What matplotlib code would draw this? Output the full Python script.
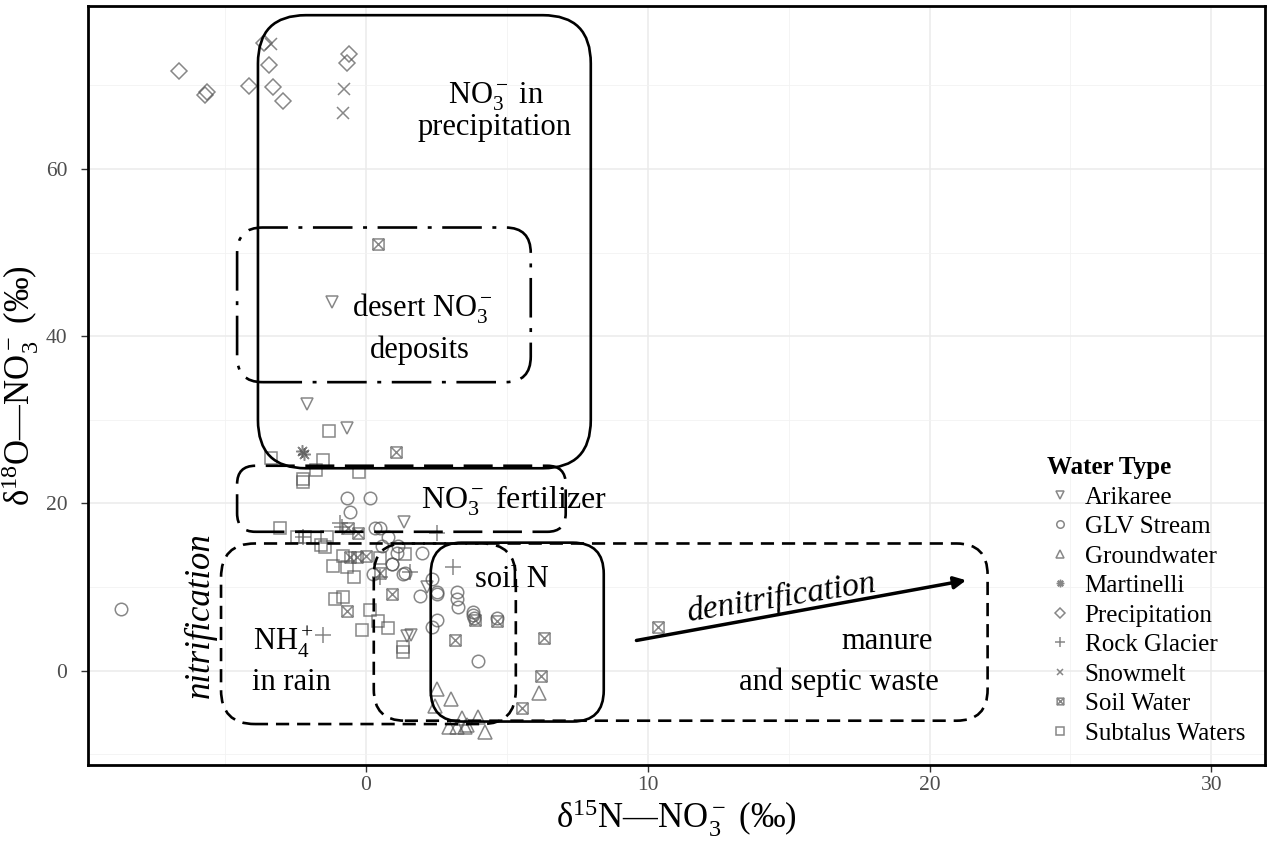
import matplotlib
matplotlib.use("Agg")
import matplotlib.pyplot as plt
from matplotlib.patches import FancyBboxPatch
from matplotlib.path import Path

plt.rcParams['font.family'] = ['Liberation Serif', 'DejaVu Serif']
plt.rcParams['mathtext.fontset'] = 'custom'
plt.rcParams['mathtext.rm'] = 'Liberation Serif'
plt.rcParams['mathtext.it'] = 'Liberation Serif:italic'
plt.rcParams['mathtext.bf'] = 'Liberation Serif:bold'

# d15N / d18O of nitrate by water type
arikaree_x = [-1.21, -2.09, -0.67, 1.35, 1.45, 1.6, 2.16]
arikaree_y = [44.1, 31.9, 29.0, 17.8, 4.1, 4.3, 10.0]

glv_x = [-8.69, -0.67, 0.14, -0.57, 0.32, 0.50, 0.78, 0.57, 1.13, 1.10, 1.99, 0.92,
         0.25, 1.31, 1.91, 2.52, 3.23, 3.23, 3.26, 3.79, 3.85, 2.34, 2.52, 2.34,
         3.79, 4.65, 3.98, 1.38, 0.92, 2.52]
glv_y = [7.35, 20.6, 20.6, 19.0, 17.0, 17.0, 16.0, 14.9, 14.9, 14.1, 14.1, 12.7,
         11.6, 11.6, 8.9, 9.4, 9.4, 8.6, 7.6, 6.7, 6.3, 11.0, 6.1, 5.2,
         7.0, 6.3, 1.2, 11.7, 12.8, 9.2]

ground_x = [2.52, 3.01, 2.45, 3.40, 3.23, 3.58, 3.97, 4.22, 6.13, 2.95, 3.5]
ground_y = [-2.2, -3.4, -4.3, -5.7, -6.7, -6.5, -5.5, -7.3, -2.7, -6.8, -6.8]

martinelli_x = [-2.27, -2.2]
martinelli_y = [26.3, 25.9]

precip_x = [-6.63, -5.64, -5.71, -4.15, -3.62, -3.44, -3.30, -2.94, -0.60, -0.67]
precip_y = [71.7, 69.2, 68.8, 69.9, 75.1, 72.4, 69.8, 68.1, 73.7, 72.7]

rock_x = [-0.85, 2.52, 1.56, 3.09, 0.50, -1.52, -0.92, -2.23]
rock_y = [17.2, 16.4, 11.8, 12.4, 11.2, 4.2, 17.6, 16.0]

snow_x = [-3.37, -0.78, -0.82]
snow_y = [74.9, 69.6, 66.7]

soil_x = [0.43, 1.06, -0.64, -0.28, 0.0, -0.32, -0.57, 0.50, 0.92, -0.67, 3.87,
          4.65, 3.16, 6.31, 6.21, 5.53, 10.35]
soil_y = [51.0, 26.1, 17.1, 16.4, 13.7, 13.6, 13.6, 11.7, 9.2, 7.1, 6.1,
          5.9, 3.6, 3.9, -0.7, -4.5, 5.2]

subtalus_x = [-1.31, -1.52, -1.77, -2.23, -2.23, -0.25, -3.37, -3.05, -2.45, -1.38,
              -1.45, -1.17, -0.67, -0.43, -1.10, -0.82, 0.14, 0.43, 0.78, -0.14,
              1.38, 1.31, 1.31, -0.82, -2.16, -1.6, 0.5]
subtalus_y = [28.7, 25.2, 24.0, 22.9, 22.6, 23.7, 25.4, 17.0, 16.0, 16.0,
              14.8, 12.5, 12.4, 11.2, 8.6, 8.8, 7.2, 5.9, 5.1, 4.8,
              14.0, 2.8, 2.2, 13.7, 16.0, 15.0, 13.5]

# square with a cross inside (ggplot shape 7)
boxx = Path([(-1, -1), (1, -1), (1, 1), (-1, 1), (-1, -1), (-1, -1), (1, 1), (-1, 1), (1, -1)],
            [Path.MOVETO, Path.LINETO, Path.LINETO, Path.LINETO, Path.CLOSEPOLY,
             Path.MOVETO, Path.LINETO, Path.MOVETO, Path.LINETO])

series = [
    ("Arikaree", arikaree_x, arikaree_y, 'v', 9),
    ("GLV Stream", glv_x, glv_y, 'o', 9),
    ("Groundwater", ground_x, ground_y, '^', 10),
    ("Martinelli", martinelli_x, martinelli_y, (8, 2, 0), 9),
    ("Precipitation", precip_x, precip_y, 'D', 8.5),
    ("Rock Glacier", rock_x, rock_y, '+', 11),
    ("Snowmelt", snow_x, snow_y, 'x', 8),
    ("Soil Water", soil_x, soil_y, boxx, 8),
    ("Subtalus Waters", subtalus_x, subtalus_y, 's', 8.5),
]

fig = plt.figure(figsize=(12.7, 8.56), dpi=100)
ax = fig.add_axes([0.0693, 0.1063, 0.9267, 0.8867])

pt_color = '#555555'
for name, xs, ys, mk, ms in series:
    ax.plot(xs, ys, linestyle='none', marker=mk, markersize=ms, markerfacecolor='none',
            markeredgecolor=pt_color, markeredgewidth=1.1, alpha=0.7, label=name)

ax.set_xlim(-9.86, 31.9)
ax.set_ylim(-11.3, 79.5)
ax.set_xticks([0, 10, 20, 30])
ax.set_yticks([0, 20, 40, 60])
ax.set_xticks([-5, 5, 15, 25], minor=True)
ax.set_yticks([-10, 10, 30, 50, 70], minor=True)
ax.grid(True, which='major', color='#ebebeb', linewidth=1.1)
ax.grid(True, which='minor', color='#f2f2f2', linewidth=0.6)
ax.set_axisbelow(True)
ax.tick_params(which='major', length=5, width=1, color='#333333', labelcolor='#4d4d4d',
               labelsize=15.5)
ax.tick_params(axis='x', pad=3)
ax.tick_params(axis='y', pad=10)
ax.tick_params(which='minor', length=0)
for sp in ax.spines.values():
    sp.set_linewidth(2)
    sp.set_color('black')

ax.set_xlabel(r"δ$^{15}$N—NO$_3^-$ (‰)", fontsize=25, labelpad=2)
ax.set_ylabel(r"δ$^{18}$O—NO$_3^-$ (‰)", fontsize=25, labelpad=3)

# source regions: (x0, y0, x1, y1, rounding, linestyle)
regions = [
    (-3.83, 24.2, 7.98, 78.4, 1.7, '-'),
    (-4.57, 34.5, 5.85, 53.0, 0.9, (0, (15, 4, 1.5, 4))),
    (-4.57, 16.6, 7.09, 24.5, 0.65, (0, (11, 4))),
    (-5.14, -6.4, 5.32, 15.2, 1.2, (0, (5, 3))),
    (0.28, -6.0, 22.06, 15.2, 1.1, (0, (5, 3))),
    (2.30, -6.1, 8.44, 15.3, 1.1, '-'),
]
aspect = 28.2 / 8.3
for x0, y0, x1, y1, r, ls in regions:
    box = FancyBboxPatch((x0 + r, y0 + r * aspect), (x1 - x0) - 2 * r, (y1 - y0) - 2 * r * aspect,
                         boxstyle=f"round,pad={r},rounding_size={r}", mutation_aspect=aspect,
                         facecolor='none', edgecolor='black', linewidth=1.9, linestyle=ls, zorder=3)
    ax.add_patch(box)

lab = dict(fontsize=22, ha='center', va='center', zorder=4)
ax.text(4.62, 68.6, r"NO$_3^-$ in", **lab)
ax.text(4.55, 65.0, "precipitation", **lab)
ax.text(2.0, 43.3, r"desert NO$_3^-$", **lab)
ax.text(1.9, 38.3, "deposits", **lab)
ax.text(5.25, 20.3, r"NO$_3^-$ fertilizer", fontsize=23, ha='center', va='center', zorder=4)
ax.text(5.18, 10.95, "soil N", **lab)
ax.text(-2.94, 3.4, r"NH$_4^+$", **lab)
ax.text(-2.65, -1.45, "in rain", **lab)
ax.text(18.5, 3.5, "manure", **lab)
ax.text(16.8, -1.35, "and septic waste", **lab)
ax.text(-5.89, 6.6, "nitrification", fontsize=25, style='italic', rotation=90,
        ha='center', va='center', zorder=4)
ax.text(14.75, 8.7, "denitrification", fontsize=24, style='italic', rotation=9,
        ha='center', va='center', zorder=4)
ax.annotate("", xy=(21.3, 10.8), xytext=(9.6, 3.6),
            arrowprops=dict(arrowstyle='-|>', color='black', lw=2.5, mutation_scale=18,
                            shrinkA=0, shrinkB=0), zorder=4)

leg = ax.legend(title="Water Type", loc='upper left', bbox_to_anchor=(0.8, 0.43),
                frameon=False, fontsize=18, markerscale=0.6, handlelength=1.0,
                handletextpad=0.5, labelspacing=0.28, alignment='left', borderpad=0.2)
leg.get_title().set_fontweight('bold')
leg.get_title().set_fontsize(18)

fig.savefig("out.png", dpi=100)
